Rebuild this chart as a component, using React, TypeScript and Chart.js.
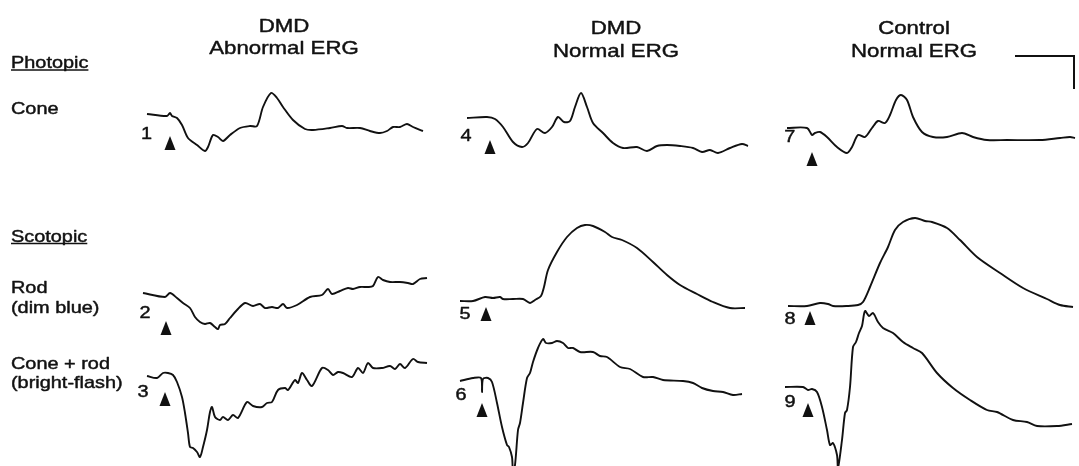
import React, { useEffect, useRef } from "react";
import { Chart, registerables } from "chart.js";

Chart.register(...registerables);

// ---- ERG traces: time after stimulus (t) and amplitude above pre-stimulus baseline (a) ----
// 1: DMD abnormal, photopic cone
const T1 = [-23, -3, 0, 2, 7, 12, 18, 27, 35, 38, 43, 48, 53, 60, 70, 80, 87, 93, 101, 107, 113, 123, 135, 143, 160, 172, 177, 190, 200, 210, 217, 223, 230, 237, 243, 253];
const A1 = [2, 0, 3, 0, -2, -9, -22, -29, -35, -31, -19, -21, -25, -19, -12, -10, -10, 9, 23, 18, 9, -4, -13, -14, -12, -10, -12, -12, -15, -17, -15, -11, -11, -8, -11, -15];
// 2: DMD abnormal, scotopic rod (dim blue)
const T2 = [-23, -1, 4, 11, 17, 24, 29, 34, 39, 44, 49, 52, 54, 59, 64, 71, 79, 87, 94, 99, 106, 112, 117, 121, 131, 144, 156, 162, 166, 174, 182, 187, 194, 202, 207, 212, 217, 224, 234, 242, 247, 254, 261];
const A2 = [3, -1, 3, -2, -7, -12, -21, -26, -28, -27, -31, -33, -29, -28, -22, -14, -7, -10, -8, -12, -11, -12, -8, -12, -9, -1, 1, 7, 2, 5, 8, 7, 9, 9, 10, 19, 16, 14, 14, 13, 12, 17, 18];
// 3: DMD abnormal, cone + rod (bright flash)
const T3 = [-18, -8, -2, 3, 8, 12, 17, 20, 23, 25, 28, 32, 35, 38, 42, 45, 47, 50, 55, 58, 63, 68, 73, 82, 88, 97, 102, 107, 113, 120, 123, 130, 133, 137, 142, 147, 157, 163, 168, 173, 178, 187, 193, 198, 203, 208, 217, 225, 230, 235, 240, 248, 253, 262];
const A3 = [0, -2, 3, 3, 1, -6, -21, -37, -57, -71, -72, -76, -81, -71, -54, -36, -31, -41, -44, -41, -44, -39, -42, -26, -30, -31, -27, -26, -14, -12, -14, -4, -7, 3, -4, -10, 8, 6, 1, 4, 3, -1, 8, 3, 13, 8, 8, 10, 7, 12, 8, 17, 14, 13];
// 4: DMD normal, photopic cone
const T4 = [-23, -3, 5, 13, 23, 32, 38, 47, 55, 62, 68, 74, 80, 85, 91, 97, 103, 113, 123, 133, 147, 157, 167, 177, 190, 203, 212, 220, 228, 240, 252, 258];
const A4 = [0, 1, -1, -9, -24, -29, -25, -11, -15, -9, 1, -4, -3, 11, 25, 11, -5, -15, -25, -30, -29, -33, -28, -27, -28, -30, -34, -32, -35, -30, -26, -28];
// 5: DMD normal, scotopic rod
const T5 = [-26, -13, -1, 7, 14, 17, 27, 37, 44, 49, 55, 58, 62, 71, 81, 91, 99, 107, 119, 126, 136, 151, 167, 181, 194, 211, 227, 244, 259];
const A5 = [-1, -1, 3, 2, 3, 1, 1, 1, -3, 0, 4, 13, 30, 48, 63, 72, 75, 74, 68, 63, 60, 52, 38, 25, 15, 6, -2, -8, -8];
// 6: DMD normal, cone + rod
const T6 = [-22, -9, -1, 0, 1, 6, 10, 15, 20, 25, 27, 30, 31, 33, 36, 38, 41, 45, 48, 51, 56, 61, 64, 70, 75, 81, 86, 91, 98, 111, 118, 125, 138, 148, 161, 171, 181, 201, 211, 220, 231, 241, 251, 260];
const A6 = [-2, 1, 1, -13, 0, 1, -3, -24, -48, -66, -68, -78, -92, -86, -51, -44, -24, 1, 6, 17, 31, 40, 36, 36, 38, 36, 31, 31, 27, 27, 23, 22, 12, 10, 2, 2, -1, -2, -4, -9, -12, -13, -16, -15];
// 7: Control, photopic cone
const T7 = [-25, -5, 0, 3, 8, 15, 25, 35, 40, 46, 53, 60, 66, 73, 78, 84, 89, 95, 101, 110, 121, 135, 150, 161, 175, 195, 228, 248, 258, 263];
const A7 = [0, 0, -7, -5, -4, -9, -19, -25, -19, -7, -9, 0, 7, 5, 13, 28, 33, 28, 11, -4, -9, -9, -5, -9, -12, -12, -12, -10, -9, -10];
// 8: Control, scotopic rod
const T8 = [-22, -3, 10, 18, 23, 37, 48, 53, 60, 70, 78, 85, 93, 105, 115, 122, 137, 150, 167, 190, 213, 237, 250, 263];
const A8 = [-1, -1, 2, 1, -1, -1, 0, 3, 18, 42, 58, 75, 83, 87, 84, 83, 77, 65, 48, 32, 17, 6, 0, -2];
// 9: Control, cone + rod
const T9 = [-23, -5, 0, 4, 9, 14, 19, 22, 25, 29, 30, 34, 37, 39, 42, 45, 48, 51, 54, 57, 61, 65, 70, 75, 85, 95, 105, 114, 129, 145, 162, 179, 189, 205, 219, 229, 249, 264];
const A9 = [0, 0, -3, -2, -5, -20, -43, -58, -56, -68, -81, -53, -26, -23, 0, 40, 45, 54, 61, 76, 71, 74, 65, 59, 54, 45, 39, 34, 14, -1, -13, -23, -25, -33, -35, -39, -39, -37];

const COLUMN_TITLES = [
  ["DMD", "Abnormal ERG"],
  ["DMD", "Normal ERG"],
  ["Control", "Normal ERG"],
];
const TRACE_NUMBERS = ["1", "2", "3", "4", "5", "6", "7", "8", "9"];

// ---- layout (panel placement, not data) ----
const W = 1079;
const H = 466;
const FONT = '"Liberation Sans", Arial, Helvetica, sans-serif';
const SX = 1.17; // horizontal stretch of the original typesetting

const PANELS = [
  { t: T1, a: A1, stimX: 170, baseY: 116, drop: 20, lx: 146.5, ly: 134.5 },
  { t: T2, a: A2, stimX: 166, baseY: 296, drop: 25, lx: 145, ly: 313 },
  { t: T3, a: A3, stimX: 165, baseY: 376, drop: 16, lx: 143, ly: 392.5 },
  { t: T4, a: A4, stimX: 490, baseY: 118, drop: 22, lx: 466, ly: 136.7 },
  { t: T5, a: A5, stimX: 486, baseY: 300, drop: 7, lx: 465, ly: 314 },
  { t: T6, a: A6, stimX: 482, baseY: 379, drop: 24, lx: 461, ly: 395 },
  { t: T7, a: A7, stimX: 812, baseY: 128, drop: 24, lx: 789.7, ly: 137.5 },
  { t: T8, a: A8, stimX: 810, baseY: 305, drop: 6, lx: 790, ly: 319 },
  { t: T9, a: A9, stimX: 808, baseY: 387, drop: 16, lx: 790, ly: 402.5 },
];

const TITLE_POS = [
  { x: 284, y1: 31.5, y2: 53.5 },
  { x: 616, y1: 33.5, y2: 56.5 },
  { x: 914, y1: 34, y2: 57 },
];

const ROW_LABELS = [
  { text: "Photopic", y: 68.3, underline: true },
  { text: "Cone", y: 114, underline: false },
  { text: "Scotopic", y: 241.7, underline: true },
  { text: "Rod", y: 293.3, underline: false },
  { text: "(dim blue)", y: 313.3, underline: false },
  { text: "Cone + rod", y: 369.3, underline: false },
  { text: "(bright-flash)", y: 388.3, underline: false },
];

// calibration bar (time, amplitude) anchored at its corner
const BAR = { x: 1074, y: 56, t: 59, a: 33 };

const INK = "#111111";

function stretchedText(ctx: CanvasRenderingContext2D, text: string, x: number, y: number) {
  ctx.save();
  ctx.translate(x, y);
  ctx.scale(SX, 1);
  ctx.lineWidth = 0.45;
  ctx.lineJoin = "round";
  ctx.strokeText(text, 0, 0);
  ctx.fillText(text, 0, 0);
  ctx.restore();
}

const annotations = {
  id: "ergAnnotations",
  afterDatasetsDraw(chart: any) {
    const ctx: CanvasRenderingContext2D = chart.ctx;
    const xs = chart.scales.x;
    const ys = chart.scales.y;
    ctx.save();
    ctx.fillStyle = INK;
    ctx.strokeStyle = INK;

    // column titles
    ctx.font = `19px ${FONT}`;
    ctx.textAlign = "center";
    ctx.textBaseline = "alphabetic";
    COLUMN_TITLES.forEach((lines, i) => {
      const p = TITLE_POS[i];
      stretchedText(ctx, lines[0], xs.getPixelForValue(p.x), ys.getPixelForValue(p.y1));
      stretchedText(ctx, lines[1], xs.getPixelForValue(p.x), ys.getPixelForValue(p.y2));
    });

    // row labels
    ctx.font = `17px ${FONT}`;
    ctx.textAlign = "left";
    ROW_LABELS.forEach((r) => {
      const x = xs.getPixelForValue(11);
      const y = ys.getPixelForValue(r.y);
      stretchedText(ctx, r.text, x, y);
      if (r.underline) {
        const w = ctx.measureText(r.text).width * SX;
        ctx.lineWidth = 1.5;
        ctx.beginPath();
        ctx.moveTo(x, y + 1.8);
        ctx.lineTo(x + w, y + 1.8);
        ctx.stroke();
      }
    });

    // trace numbers and stimulus arrows
    ctx.textAlign = "center";
    ctx.textBaseline = "middle";
    ctx.font = `17px ${FONT}`;
    PANELS.forEach((p, i) => {
      stretchedText(ctx, TRACE_NUMBERS[i], xs.getPixelForValue(p.lx), ys.getPixelForValue(p.ly));
      const ax = xs.getPixelForValue(p.stimX);
      const ay = ys.getPixelForValue(p.baseY + p.drop);
      ctx.beginPath();
      ctx.moveTo(ax, ay);
      ctx.lineTo(ax + 5.5, ay + 14);
      ctx.lineTo(ax - 5.5, ay + 14);
      ctx.closePath();
      ctx.fill();
    });

    // calibration bar
    ctx.lineWidth = 2;
    ctx.beginPath();
    ctx.moveTo(xs.getPixelForValue(BAR.x - BAR.t), ys.getPixelForValue(BAR.y));
    ctx.lineTo(xs.getPixelForValue(BAR.x), ys.getPixelForValue(BAR.y));
    ctx.lineTo(xs.getPixelForValue(BAR.x), ys.getPixelForValue(BAR.y + BAR.a));
    ctx.stroke();

    ctx.restore();
  },
};

export default function App() {
  const ref = useRef<HTMLCanvasElement | null>(null);

  useEffect(() => {
    if (!ref.current) return;
    const chart = new Chart(ref.current, {
      type: "line",
      data: {
        datasets: PANELS.map((p) => ({
          data: p.t.map((ti, i) => ({ x: p.stimX + ti, y: p.baseY - p.a[i] })),
          borderColor: INK,
          borderWidth: 1.9,
          pointRadius: 0,
          tension: 0.3,
          fill: false,
        })),
      },
      options: {
        responsive: false,
        animation: false,
        devicePixelRatio: 1,
        events: [],
        layout: { padding: 0 },
        plugins: { legend: { display: false }, tooltip: { enabled: false } },
        scales: {
          x: { type: "linear", display: false, min: 0, max: W },
          y: { type: "linear", display: false, min: 0, max: H, reverse: true },
        },
      },
      plugins: [annotations],
    });
    return () => chart.destroy();
  }, []);

  return (
    <div style={{ position: "fixed", left: 0, top: 0, width: W, height: H, background: "#ffffff" }}>
      <canvas ref={ref} width={W} height={H} style={{ display: "block" }} />
    </div>
  );
}
